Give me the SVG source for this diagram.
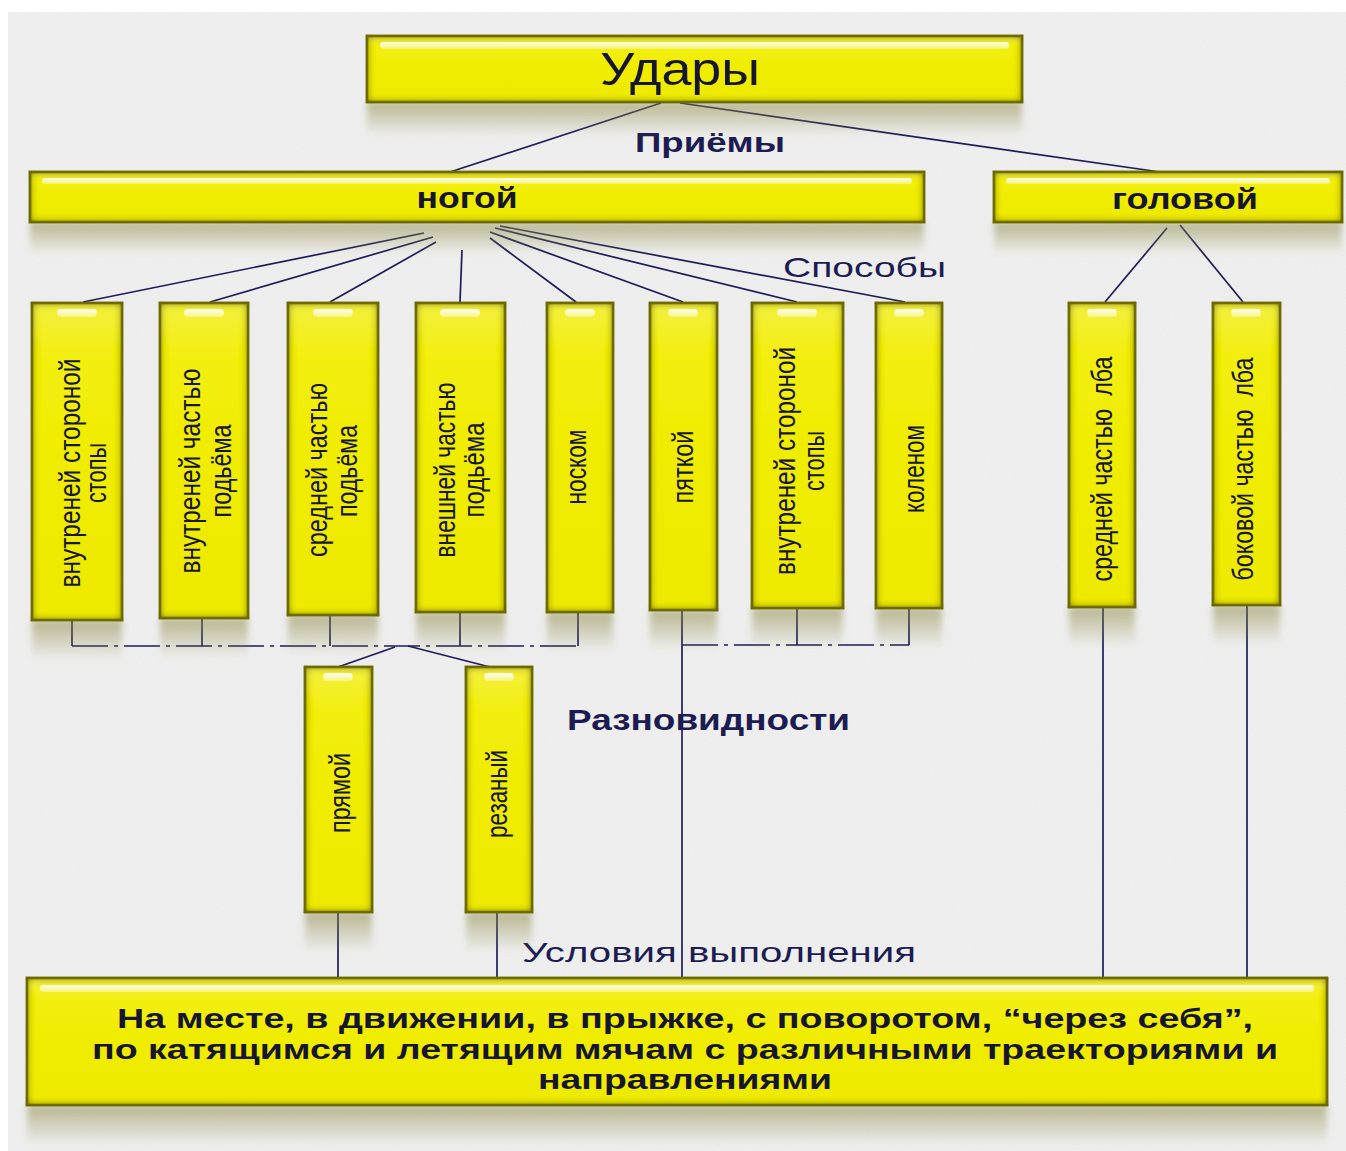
<svg xmlns="http://www.w3.org/2000/svg" width="1346" height="1151" viewBox="0 0 1346 1151">
<defs>
<style>
.bx{fill:url(#yel);stroke:#77751a;stroke-width:2.5;filter:url(#inner)}
.rf{fill:url(#refl);filter:url(#bl)}
.hl{fill:url(#hlg)}
.vt{font-family:"Liberation Sans",Arial,sans-serif;font-size:29px;fill:#15152e;text-anchor:middle}
.ht{font-family:"Liberation Sans",Arial,sans-serif;fill:#15152e;text-anchor:middle;font-weight:bold}
.lbl{font-family:"Liberation Sans",Arial,sans-serif;fill:#1c1c52;font-weight:bold}
.conn line{stroke:#1d1d5a;stroke-width:1.7;fill:none}
.conn .dd{stroke-dasharray:36 6 4 6}
</style>
<linearGradient id="yel" x1="0" y1="0" x2="0" y2="1">
<stop offset="0" stop-color="#f4f040"/>
<stop offset="0.2" stop-color="#f2ee08"/>
<stop offset="1" stop-color="#eeea00"/>
</linearGradient>
<linearGradient id="refl" x1="0" y1="0" x2="0" y2="1">
<stop offset="0" stop-color="#8c8840" stop-opacity="0.55"/>
<stop offset="1" stop-color="#8c8840" stop-opacity="0"/>
</linearGradient>
<linearGradient id="hlg" x1="0" y1="0" x2="0" y2="1">
<stop offset="0" stop-color="#ffffff" stop-opacity="0.95"/>
<stop offset="1" stop-color="#ffffff" stop-opacity="0.35"/>
</linearGradient>
<filter id="inner" x="-30%" y="-30%" width="160%" height="160%">
<feFlood flood-color="#6a680c" result="f"/>
<feComposite in="f" in2="SourceAlpha" operator="out" result="o"/>
<feGaussianBlur in="o" stdDeviation="4.5" result="b"/>
<feComposite in="b" in2="SourceAlpha" operator="in" result="s"/>
<feMerge><feMergeNode in="SourceGraphic"/><feMergeNode in="s"/><feMergeNode in="s"/></feMerge>
</filter>
<filter id="bl" x="-10%" y="-30%" width="120%" height="160%">
<feGaussianBlur stdDeviation="3"/>
</filter>
<filter id="paper" x="0" y="0" width="100%" height="100%">
<feTurbulence type="fractalNoise" baseFrequency="0.9" numOctaves="2" seed="3" result="n"/>
<feColorMatrix in="n" type="matrix" values="0 0 0 0 0.55  0 0 0 0 0.55  0 0 0 0 0.55  0 0 0 0.18 0"/>
</filter>
</defs>

<rect x="0" y="0" width="1346" height="1151" fill="#ffffff"/>
<rect x="8" y="12" width="1338" height="1139" fill="#f0f0f0"/>
<rect x="8" y="12" width="1338" height="1139" filter="url(#paper)" opacity="0.6"/>

<g id="labels">
<text class="lbl" x="635" y="152" font-size="28" textLength="150" lengthAdjust="spacingAndGlyphs">Приёмы</text>
<text class="lbl" x="783" y="277" font-size="28" textLength="163" lengthAdjust="spacingAndGlyphs" style="font-weight:normal">Способы</text>
<text class="lbl" x="567" y="730" font-size="30" textLength="283" lengthAdjust="spacingAndGlyphs">Разновидности</text>
<text class="lbl" x="522" y="962" font-size="28" textLength="394" lengthAdjust="spacingAndGlyphs" style="font-weight:normal">Условия выполнения</text>
</g>

<g id="connectors" class="conn">
<line x1="661" y1="103" x2="450" y2="172"/>
<line x1="680" y1="103" x2="1160" y2="172"/>
<line x1="424" y1="233" x2="83" y2="302"/>
<line x1="433" y1="237" x2="210" y2="302"/>
<line x1="436" y1="242" x2="330" y2="302"/>
<line x1="462" y1="250" x2="460" y2="302"/>
<line x1="490" y1="238" x2="576" y2="302"/>
<line x1="490" y1="232" x2="683" y2="302"/>
<line x1="495" y1="228" x2="797" y2="302"/>
<line x1="500" y1="226" x2="905" y2="302"/>
<line x1="1167" y1="228" x2="1105" y2="302"/>
<line x1="1180" y1="225" x2="1243" y2="302"/>
<line x1="72" y1="620" x2="72" y2="646"/>
<line x1="202" y1="618" x2="202" y2="646"/>
<line x1="330" y1="615" x2="330" y2="646"/>
<line x1="460" y1="612" x2="460" y2="646"/>
<line x1="578" y1="612" x2="578" y2="646"/>
<line class="dd" x1="72" y1="646" x2="578" y2="646"/>
<line x1="395" y1="647" x2="338" y2="667"/>
<line x1="408" y1="646" x2="490" y2="667"/>
<line x1="682" y1="610" x2="682" y2="978"/>
<line x1="797" y1="608" x2="797" y2="645"/>
<line x1="909" y1="608" x2="909" y2="645"/>
<line class="dd" x1="682" y1="645" x2="909" y2="645"/>
<line x1="338" y1="912" x2="338" y2="978"/>
<line x1="497" y1="912" x2="497" y2="978"/>
<line x1="1103" y1="607" x2="1103" y2="978"/>
<line x1="1247" y1="605" x2="1247" y2="978"/>
</g>

<g id="n-udary">
<rect class="rf" x="367" y="102" width="655" height="34"/>
<rect class="bx" x="367" y="36" width="655" height="66"/>
<rect class="hl" x="380" y="42" width="629" height="7" rx="3"/>
<text class="ht" x="680" y="85" font-size="46" style="font-weight:normal" textLength="160" lengthAdjust="spacingAndGlyphs">Удары</text>
</g>

<g id="n-nogoi">
<rect class="rf" x="30" y="222" width="894" height="32"/>
<rect class="bx" x="30" y="172" width="894" height="50"/>
<rect class="hl" x="42" y="178" width="870" height="6" rx="3"/>
<text class="ht" x="467" y="208" font-size="29" textLength="101" lengthAdjust="spacingAndGlyphs">ногой</text>
</g>

<g id="n-golovoi">
<rect class="rf" x="994" y="222" width="348" height="32"/>
<rect class="bx" x="994" y="172" width="348" height="50"/>
<rect class="hl" x="1006" y="178" width="324" height="6" rx="3"/>
<text class="ht" x="1185" y="209" font-size="29" textLength="146" lengthAdjust="spacingAndGlyphs">головой</text>
</g>

<g id="v1">
<rect class="rf" x="32" y="620" width="90" height="40"/>
<rect class="bx" x="32" y="303" width="90" height="317"/>
<rect class="hl" x="57" y="309" width="40" height="8" rx="4"/>
<text class="vt" transform="translate(80,473) rotate(-90)" textLength="229" lengthAdjust="spacingAndGlyphs">внутреней стороной</text>
<text class="vt" transform="translate(106,473) rotate(-90)" textLength="60" lengthAdjust="spacingAndGlyphs">стопы</text>
</g>

<g id="v2">
<rect class="rf" x="160" y="618" width="88" height="40"/>
<rect class="bx" x="160" y="303" width="88" height="315"/>
<rect class="hl" x="184" y="309" width="40" height="8" rx="4"/>
<text class="vt" transform="translate(200,471) rotate(-90)" textLength="205" lengthAdjust="spacingAndGlyphs">внутреней частью</text>
<text class="vt" transform="translate(231,471) rotate(-90)" textLength="93" lengthAdjust="spacingAndGlyphs">подьёма</text>
</g>

<g id="v3">
<rect class="rf" x="288" y="615" width="90" height="40"/>
<rect class="bx" x="288" y="303" width="90" height="312"/>
<rect class="hl" x="313" y="309" width="40" height="8" rx="4"/>
<text class="vt" transform="translate(327,470) rotate(-90)" textLength="174" lengthAdjust="spacingAndGlyphs">средней частью</text>
<text class="vt" transform="translate(357,471) rotate(-90)" textLength="92" lengthAdjust="spacingAndGlyphs">подьёма</text>
</g>

<g id="v4">
<rect class="rf" x="416" y="612" width="89" height="40"/>
<rect class="bx" x="416" y="303" width="89" height="309"/>
<rect class="hl" x="440" y="309" width="40" height="8" rx="4"/>
<text class="vt" transform="translate(455,470) rotate(-90)" textLength="175" lengthAdjust="spacingAndGlyphs">внешней частью</text>
<text class="vt" transform="translate(484,470) rotate(-90)" textLength="95" lengthAdjust="spacingAndGlyphs">подьёма</text>
</g>

<g id="v5">
<rect class="rf" x="547" y="612" width="66" height="40"/>
<rect class="bx" x="547" y="303" width="66" height="309"/>
<rect class="hl" x="565" y="309" width="30" height="8" rx="4"/>
<text class="vt" transform="translate(586,467) rotate(-90)" textLength="75" lengthAdjust="spacingAndGlyphs">носком</text>
</g>

<g id="v6">
<rect class="rf" x="650" y="610" width="67" height="40"/>
<rect class="bx" x="650" y="303" width="67" height="307"/>
<rect class="hl" x="668" y="309" width="30" height="8" rx="4"/>
<text class="vt" transform="translate(693,467) rotate(-90)" textLength="73" lengthAdjust="spacingAndGlyphs">пяткой</text>
</g>

<g id="v7">
<rect class="rf" x="752" y="608" width="91" height="40"/>
<rect class="bx" x="752" y="303" width="91" height="305"/>
<rect class="hl" x="777" y="309" width="40" height="8" rx="4"/>
<text class="vt" transform="translate(795,461) rotate(-90)" textLength="228" lengthAdjust="spacingAndGlyphs">внутреней стороной</text>
<text class="vt" transform="translate(824,461) rotate(-90)" textLength="60" lengthAdjust="spacingAndGlyphs">стопы</text>
</g>

<g id="v8">
<rect class="rf" x="876" y="608" width="66" height="40"/>
<rect class="bx" x="876" y="303" width="66" height="305"/>
<rect class="hl" x="894" y="309" width="30" height="8" rx="4"/>
<text class="vt" transform="translate(924,469) rotate(-90)" textLength="88" lengthAdjust="spacingAndGlyphs">коленом</text>
</g>

<g id="v9">
<rect class="rf" x="1069" y="607" width="66" height="40"/>
<rect class="bx" x="1069" y="303" width="66" height="304"/>
<rect class="hl" x="1087" y="309" width="30" height="8" rx="4"/>
<text class="vt" xml:space="preserve" transform="translate(1112,469) rotate(-90)" textLength="225" lengthAdjust="spacingAndGlyphs">средней частью  лба</text>
</g>

<g id="v10">
<rect class="rf" x="1213" y="605" width="67" height="40"/>
<rect class="bx" x="1213" y="303" width="67" height="302"/>
<rect class="hl" x="1231" y="309" width="30" height="8" rx="4"/>
<text class="vt" xml:space="preserve" transform="translate(1253,469) rotate(-90)" textLength="223" lengthAdjust="spacingAndGlyphs">боковой частью  лба</text>
</g>

<g id="v-pryamoi">
<rect class="rf" x="305" y="912" width="67" height="40"/>
<rect class="bx" x="305" y="667" width="67" height="245"/>
<rect class="hl" x="323" y="673" width="30" height="8" rx="4"/>
<text class="vt" transform="translate(350,793) rotate(-90)" textLength="80" lengthAdjust="spacingAndGlyphs">прямой</text>
</g>

<g id="v-rezanyi">
<rect class="rf" x="466" y="912" width="66" height="40"/>
<rect class="bx" x="466" y="667" width="66" height="245"/>
<rect class="hl" x="484" y="673" width="30" height="8" rx="4"/>
<text class="vt" transform="translate(507,794) rotate(-90)" textLength="88" lengthAdjust="spacingAndGlyphs">резаный</text>
</g>

<g id="n-usloviya">
<rect class="rf" x="27" y="1105" width="1300" height="40"/>
<rect class="bx" x="27" y="978" width="1300" height="127"/>
<rect class="hl" x="40" y="985" width="1274" height="7" rx="3"/>
<text class="ht" x="685" y="1028" font-size="27" textLength="1136" lengthAdjust="spacingAndGlyphs">На месте, в движении, в прыжке, с поворотом, “через себя”,</text>
<text class="ht" x="685" y="1059" font-size="27" textLength="1186" lengthAdjust="spacingAndGlyphs">по катящимся и летящим мячам с различными траекториями и</text>
<text class="ht" x="685" y="1089" font-size="27" textLength="294" lengthAdjust="spacingAndGlyphs">направлениями</text>
</g>
</svg>
